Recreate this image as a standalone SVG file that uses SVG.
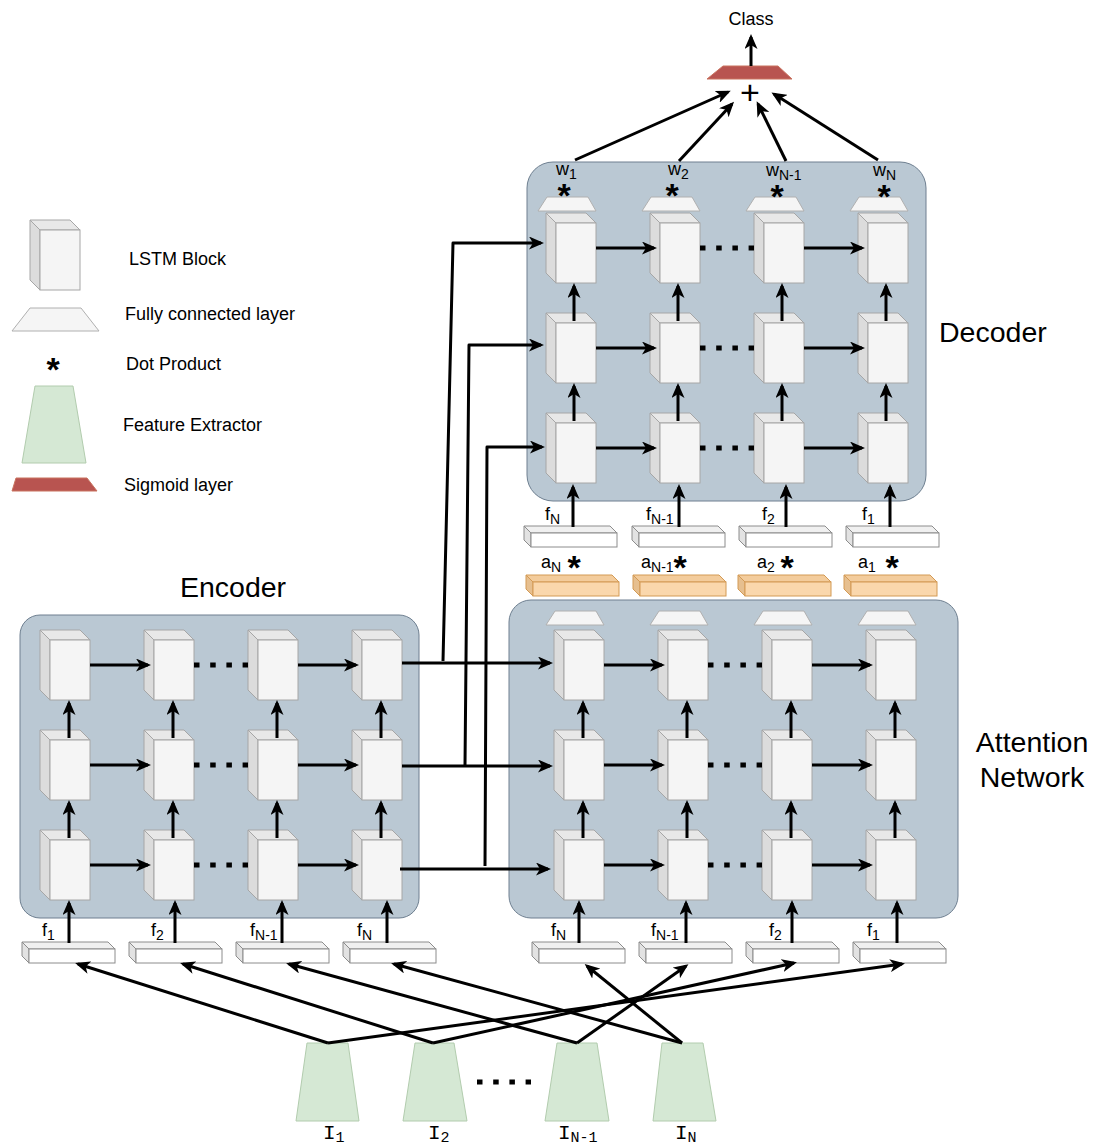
<svg xmlns="http://www.w3.org/2000/svg" width="1093" height="1147" viewBox="0 0 1093 1147">
<style>
.t{font-family:"Liberation Sans",Arial,sans-serif;fill:#000}
.big{font-size:28.5px}
.leg{font-size:18px}
.lb{font-size:18px}
.sub{font-size:14px}
.mono{font-family:"Liberation Mono","Courier New",monospace;font-size:21px;fill:#000}
.msub{font-size:15px}
.star{font-family:"Liberation Sans",Arial,sans-serif;font-size:34px;font-weight:bold;text-anchor:middle;fill:#000}
.box{fill:#bac8d3;stroke:#6e7f90;stroke-width:1}
.cs{fill:#dcdcdc;stroke:#a6a6a6;stroke-width:1}
.ct{fill:#e8e8e8;stroke:#a6a6a6;stroke-width:1}
.cf{fill:#f5f5f5;stroke:#a6a6a6;stroke-width:1}
.bs{fill:#e2e2e2;stroke:#8c8c8c;stroke-width:1}
.bt{fill:#f0f0f0;stroke:#8c8c8c;stroke-width:1}
.bf{fill:#ffffff;stroke:#8c8c8c;stroke-width:1}
.os{fill:#e6bf8f;stroke:#d39a55;stroke-width:1}
.ot{fill:#f3cc9c;stroke:#d39a55;stroke-width:1}
.of{fill:#fad7ac;stroke:#d39a55;stroke-width:1}
.fc{fill:#f5f5f5;stroke:#b0b0b0;stroke-width:1}
.fe{fill:#d5e8d4;stroke:#b2ccae;stroke-width:1}
.sg{fill:#b85450;stroke:#c9735f;stroke-width:1}
.c line,.c polyline{stroke:#000;stroke-width:3;fill:none;marker-end:url(#ah);stroke-linejoin:round}
.c line.dot{marker-end:none;stroke-width:5;stroke-dasharray:5.5 10.7}
</style>
<defs>
<marker id="ah" viewBox="0 0 15 13" refX="12" refY="6.5" markerWidth="15" markerHeight="13" markerUnits="userSpaceOnUse" orient="auto"><path d="M0,0 L15,6.5 L0,13 L4,6.5 Z" fill="#000"/></marker>
<g id="cube"><polygon class="cs" points="0,0 10,10 10,70 0,60"/><polygon class="ct" points="0,0 40,0 50,10 10,10"/><rect class="cf" x="10" y="10" width="40" height="60"/></g>
<g id="bar"><polygon class="bs" points="0,0 7,7 7,21 0,14"/><polygon class="bt" points="0,0 86,0 93,7 7,7"/><rect class="bf" x="7" y="7" width="86" height="14"/></g>
<g id="obar"><polygon class="os" points="0,0 7,7 7,21 0,14"/><polygon class="ot" points="0,0 86,0 93,7 7,7"/><rect class="of" x="7" y="7" width="86" height="14"/></g>
<polygon id="fcl" class="fc" points="-8,14 1,0 42,0 50,14"/>
</defs>
<rect width="1093" height="1147" fill="#ffffff"/>

<g id="legend">
<use href="#cube" x="30" y="220"/>
<polygon class="fc" points="30,308 81,308 99,331 12,331"/>
<polygon class="fe" points="35,386 73,386 86,463 22,463"/>
<polygon class="sg" points="16,478 87,478 97,491 12,491"/>
<text class="star" x="53" y="381">*</text>
<text class="t leg" x="129" y="265">LSTM Block</text>
<text class="t leg" x="125" y="320">Fully connected layer</text>
<text class="t leg" x="126" y="370">Dot Product</text>
<text class="t leg" x="123" y="431">Feature Extractor</text>
<text class="t leg" x="124" y="491">Sigmoid layer</text>
</g>

<g id="containers">
<rect id="decoder" class="box" x="527" y="162" width="399" height="339" rx="26"/>
<rect id="encoder" class="box" x="20" y="615" width="399" height="303" rx="20"/>
<rect id="attention" class="box" x="509" y="600" width="449" height="318" rx="22"/>
</g>

<g id="encoder-blocks">
<g id="enc-1-1"><use href="#cube" x="40" y="630"/></g>
<g id="enc-1-2"><use href="#cube" x="144" y="630"/></g>
<g id="enc-1-3"><use href="#cube" x="248" y="630"/></g>
<g id="enc-1-4"><use href="#cube" x="352" y="630"/></g>
<g id="enc-2-1"><use href="#cube" x="40" y="730"/></g>
<g id="enc-2-2"><use href="#cube" x="144" y="730"/></g>
<g id="enc-2-3"><use href="#cube" x="248" y="730"/></g>
<g id="enc-2-4"><use href="#cube" x="352" y="730"/></g>
<g id="enc-3-1"><use href="#cube" x="40" y="830"/></g>
<g id="enc-3-2"><use href="#cube" x="144" y="830"/></g>
<g id="enc-3-3"><use href="#cube" x="248" y="830"/></g>
<g id="enc-3-4"><use href="#cube" x="352" y="830"/></g>
</g>

<g id="attention-blocks">
<g id="att-fc-1"><use href="#fcl" x="554" y="611"/></g>
<g id="att-fc-2"><use href="#fcl" x="658" y="611"/></g>
<g id="att-fc-3"><use href="#fcl" x="762" y="611"/></g>
<g id="att-fc-4"><use href="#fcl" x="866" y="611"/></g>
<g id="att-1-1"><use href="#cube" x="554" y="630"/></g>
<g id="att-1-2"><use href="#cube" x="658" y="630"/></g>
<g id="att-1-3"><use href="#cube" x="762" y="630"/></g>
<g id="att-1-4"><use href="#cube" x="866" y="630"/></g>
<g id="att-2-1"><use href="#cube" x="554" y="730"/></g>
<g id="att-2-2"><use href="#cube" x="658" y="730"/></g>
<g id="att-2-3"><use href="#cube" x="762" y="730"/></g>
<g id="att-2-4"><use href="#cube" x="866" y="730"/></g>
<g id="att-3-1"><use href="#cube" x="554" y="830"/></g>
<g id="att-3-2"><use href="#cube" x="658" y="830"/></g>
<g id="att-3-3"><use href="#cube" x="762" y="830"/></g>
<g id="att-3-4"><use href="#cube" x="866" y="830"/></g>
</g>

<g id="decoder-blocks">
<g id="dec-fc-1"><use href="#fcl" x="546" y="197"/></g>
<g id="dec-fc-2"><use href="#fcl" x="650" y="197"/></g>
<g id="dec-fc-3"><use href="#fcl" x="754" y="197"/></g>
<g id="dec-fc-4"><use href="#fcl" x="858" y="197"/></g>
<g id="dec-1-1"><use href="#cube" x="546" y="213"/></g>
<g id="dec-1-2"><use href="#cube" x="650" y="213"/></g>
<g id="dec-1-3"><use href="#cube" x="754" y="213"/></g>
<g id="dec-1-4"><use href="#cube" x="858" y="213"/></g>
<g id="dec-2-1"><use href="#cube" x="546" y="313"/></g>
<g id="dec-2-2"><use href="#cube" x="650" y="313"/></g>
<g id="dec-2-3"><use href="#cube" x="754" y="313"/></g>
<g id="dec-2-4"><use href="#cube" x="858" y="313"/></g>
<g id="dec-3-1"><use href="#cube" x="546" y="413"/></g>
<g id="dec-3-2"><use href="#cube" x="650" y="413"/></g>
<g id="dec-3-3"><use href="#cube" x="754" y="413"/></g>
<g id="dec-3-4"><use href="#cube" x="858" y="413"/></g>
</g>

<g id="bars">
<g id="enc-bar-1"><use href="#bar" x="22" y="942"/></g>
<g id="enc-bar-2"><use href="#bar" x="129" y="942"/></g>
<g id="enc-bar-3"><use href="#bar" x="236" y="942"/></g>
<g id="enc-bar-4"><use href="#bar" x="343" y="942"/></g>
<g id="att-bar-1"><use href="#bar" x="532" y="942"/></g>
<g id="att-bar-2"><use href="#bar" x="639" y="942"/></g>
<g id="att-bar-3"><use href="#bar" x="746" y="942"/></g>
<g id="att-bar-4"><use href="#bar" x="853" y="942"/></g>
<g id="dec-bar-1"><use href="#bar" x="524" y="526"/></g>
<g id="dec-bar-2"><use href="#bar" x="632" y="526"/></g>
<g id="dec-bar-3"><use href="#bar" x="739" y="526"/></g>
<g id="dec-bar-4"><use href="#bar" x="846" y="526"/></g>
<g id="a-bar-1"><use href="#obar" x="526" y="575"/></g>
<g id="a-bar-2"><use href="#obar" x="633" y="575"/></g>
<g id="a-bar-3"><use href="#obar" x="738" y="575"/></g>
<g id="a-bar-4"><use href="#obar" x="844" y="575"/></g>
</g>

<g id="feature-extractors">
<g id="fe-1"><polygon class="fe" points="307,1043 348,1043 359,1121 296,1121"/></g>
<g id="fe-2"><polygon class="fe" points="415,1043 454,1043 467,1121 403,1121"/></g>
<g id="fe-3"><polygon class="fe" points="557,1043 597,1043 609,1121 545,1121"/></g>
<g id="fe-4"><polygon class="fe" points="662,1043 703,1043 716,1121 653,1121"/></g>
</g>

<g id="sigmoid"><polygon class="sg" points="707,79 723,66 778,66 792,79"/></g>

<g id="connectors" class="c">
<line x1="90" y1="665" x2="148" y2="665"/><line class="dot" x1="194" y1="665" x2="248" y2="665"/><line x1="298" y1="665" x2="356" y2="665"/>
<line x1="90" y1="765" x2="148" y2="765"/><line class="dot" x1="194" y1="765" x2="248" y2="765"/><line x1="298" y1="765" x2="356" y2="765"/>
<line x1="90" y1="865" x2="148" y2="865"/><line class="dot" x1="194" y1="865" x2="248" y2="865"/><line x1="298" y1="865" x2="356" y2="865"/>
<line x1="69" y1="738" x2="69" y2="703"/><line x1="173" y1="738" x2="173" y2="703"/><line x1="277" y1="738" x2="277" y2="703"/><line x1="381" y1="738" x2="381" y2="703"/>
<line x1="69" y1="838" x2="69" y2="803"/><line x1="173" y1="838" x2="173" y2="803"/><line x1="277" y1="838" x2="277" y2="803"/><line x1="381" y1="838" x2="381" y2="803"/>
<line x1="69" y1="943" x2="69" y2="903"/><line x1="175" y1="943" x2="175" y2="903"/><line x1="282" y1="943" x2="282" y2="903"/><line x1="387" y1="943" x2="387" y2="903"/>
<line x1="604" y1="665" x2="662" y2="665"/><line class="dot" x1="708" y1="665" x2="762" y2="665"/><line x1="812" y1="665" x2="870" y2="665"/>
<line x1="604" y1="765" x2="662" y2="765"/><line class="dot" x1="708" y1="765" x2="762" y2="765"/><line x1="812" y1="765" x2="870" y2="765"/>
<line x1="604" y1="865" x2="662" y2="865"/><line class="dot" x1="708" y1="865" x2="762" y2="865"/><line x1="812" y1="865" x2="870" y2="865"/>
<line x1="583" y1="738" x2="583" y2="703"/><line x1="687" y1="738" x2="687" y2="703"/><line x1="791" y1="738" x2="791" y2="703"/><line x1="895" y1="738" x2="895" y2="703"/>
<line x1="583" y1="838" x2="583" y2="803"/><line x1="687" y1="838" x2="687" y2="803"/><line x1="791" y1="838" x2="791" y2="803"/><line x1="895" y1="838" x2="895" y2="803"/>
<line x1="579" y1="943" x2="579" y2="903"/><line x1="686" y1="943" x2="686" y2="903"/><line x1="792" y1="943" x2="792" y2="903"/><line x1="897" y1="943" x2="897" y2="903"/>
<line x1="596" y1="248" x2="654" y2="248"/><line class="dot" x1="700" y1="248" x2="754" y2="248"/><line x1="804" y1="248" x2="862" y2="248"/>
<line x1="596" y1="348" x2="654" y2="348"/><line class="dot" x1="700" y1="348" x2="754" y2="348"/><line x1="804" y1="348" x2="862" y2="348"/>
<line x1="596" y1="448" x2="654" y2="448"/><line class="dot" x1="700" y1="448" x2="754" y2="448"/><line x1="804" y1="448" x2="862" y2="448"/>
<line x1="574" y1="321" x2="574" y2="286"/><line x1="678" y1="321" x2="678" y2="286"/><line x1="782" y1="321" x2="782" y2="286"/><line x1="886" y1="321" x2="886" y2="286"/>
<line x1="574" y1="421" x2="574" y2="386"/><line x1="678" y1="421" x2="678" y2="386"/><line x1="782" y1="421" x2="782" y2="386"/><line x1="886" y1="421" x2="886" y2="386"/>
<line x1="573" y1="527" x2="573" y2="487"/><line x1="679" y1="527" x2="679" y2="487"/><line x1="786" y1="527" x2="786" y2="487"/><line x1="890" y1="527" x2="890" y2="487"/>
<line x1="402" y1="663" x2="550" y2="663"/>
<polyline points="443,661 453,243 541,243"/>
<line x1="402" y1="766" x2="550" y2="766"/>
<polyline points="465,765 469,345 541,345"/>
<line x1="400" y1="869" x2="548" y2="869"/>
<polyline points="485,866 487,447 542,447"/>
<line x1="328" y1="1043" x2="78" y2="964"/>
<line x1="328" y1="1043" x2="902" y2="964"/>
<line x1="433" y1="1043" x2="183" y2="964"/>
<line x1="433" y1="1043" x2="794" y2="963"/>
<line x1="577" y1="1043" x2="289" y2="964"/>
<line x1="577" y1="1043" x2="686" y2="966"/>
<line x1="682" y1="1043" x2="394" y2="964"/>
<line x1="682" y1="1043" x2="587" y2="966"/>
<line class="dot" x1="477" y1="1082" x2="531" y2="1082"/>
<line x1="575" y1="160" x2="728" y2="92"/>
<line x1="679" y1="161" x2="732" y2="104"/>
<line x1="786" y1="161" x2="758" y2="104"/>
<line x1="878" y1="160" x2="774" y2="94"/>
<line x1="751" y1="66" x2="751" y2="37"/>
</g>

<g id="labels">
<text class="t" x="751" y="25" text-anchor="middle" style="font-size:18px">Class</text>
<text class="t" x="750" y="104" text-anchor="middle" style="font-size:34px">+</text>
<text class="t big" x="233" y="597" text-anchor="middle">Encoder</text>
<text class="t big" x="939" y="342">Decoder</text>
<text class="t big" x="1032" y="752" text-anchor="middle">Attention</text>
<text class="t big" x="1032" y="787" text-anchor="middle">Network</text>

<text class="t lb" x="556" y="175">w<tspan class="sub" dy="4">1</tspan></text>
<text class="t lb" x="668" y="175">w<tspan class="sub" dy="4">2</tspan></text>
<text class="t lb" x="766" y="176">w<tspan class="sub" dy="4">N-1</tspan></text>
<text class="t lb" x="873" y="176">w<tspan class="sub" dy="4">N</tspan></text>
<text class="star" x="564" y="207">*</text>
<text class="star" x="672" y="207">*</text>
<text class="star" x="777" y="208">*</text>
<text class="star" x="884" y="208">*</text>

<text class="t lb" x="545" y="520">f<tspan class="sub" dy="4">N</tspan></text>
<text class="t lb" x="646" y="520">f<tspan class="sub" dy="4">N-1</tspan></text>
<text class="t lb" x="762" y="520">f<tspan class="sub" dy="4">2</tspan></text>
<text class="t lb" x="862" y="520">f<tspan class="sub" dy="4">1</tspan></text>

<text class="t lb" x="541" y="568">a<tspan class="sub" dy="4">N</tspan></text>
<text class="t lb" x="641" y="568">a<tspan class="sub" dy="4">N-1</tspan></text>
<text class="t lb" x="757" y="568">a<tspan class="sub" dy="4">2</tspan></text>
<text class="t lb" x="858" y="568">a<tspan class="sub" dy="4">1</tspan></text>
<text class="star" x="574" y="579">*</text>
<text class="star" x="680" y="579">*</text>
<text class="star" x="787" y="579">*</text>
<text class="star" x="892" y="579">*</text>

<text class="t lb" x="42" y="936">f<tspan class="sub" dy="4">1</tspan></text>
<text class="t lb" x="151" y="936">f<tspan class="sub" dy="4">2</tspan></text>
<text class="t lb" x="250" y="936">f<tspan class="sub" dy="4">N-1</tspan></text>
<text class="t lb" x="357" y="936">f<tspan class="sub" dy="4">N</tspan></text>

<text class="t lb" x="551" y="936">f<tspan class="sub" dy="4">N</tspan></text>
<text class="t lb" x="651" y="936">f<tspan class="sub" dy="4">N-1</tspan></text>
<text class="t lb" x="769" y="936">f<tspan class="sub" dy="4">2</tspan></text>
<text class="t lb" x="867" y="936">f<tspan class="sub" dy="4">1</tspan></text>

<text class="mono" x="323" y="1139">I<tspan class="msub" dy="3">1</tspan></text>
<text class="mono" x="428" y="1139">I<tspan class="msub" dy="3">2</tspan></text>
<text class="mono" x="558" y="1139">I<tspan class="msub" dy="3">N-1</tspan></text>
<text class="mono" x="675" y="1139">I<tspan class="msub" dy="3">N</tspan></text>
</g>
</svg>
